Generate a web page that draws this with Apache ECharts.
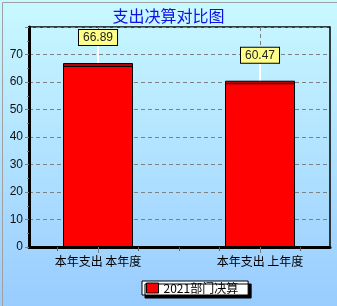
<!DOCTYPE html>
<html><head><meta charset="utf-8">
<script src="https://cdn.jsdelivr.net/npm/echarts@6/dist/echarts.min.js"></script>
<style>html,body{margin:0;padding:0;}#c{width:337px;height:306px;}</style>
</head><body><div id="c"></div>
<script>
const categories = ['本年支出 本年度', '本年支出 上年度'];
const values = [66.89, 60.47];
const seriesName = '2021部门决算';
const titleText = '支出决算对比图';

const chart = echarts.init(document.getElementById('c'), null, {renderer: 'canvas'});
chart.setOption({
  animation: false,
  backgroundColor: new echarts.graphic.LinearGradient(0, 0, 0, 1, [
    {offset: 0, color: '#c9f9ff'}, {offset: 1, color: '#99ccff'}]),
  graphic: [{type: 'rect', left: 0, top: 0, shape: {width: 337, height: 306},
    style: {fill: 'none', stroke: '#a0a0a0', lineWidth: 1}, silent: true}],
  title: {text: titleText, left: 'center', top: 3,
    textStyle: {color: '#1010e8', fontSize: 16, fontWeight: 'normal', fontFamily: 'Noto Sans CJK SC'}},
  grid: {left: 29, right: 7, top: 27, bottom: 59, show: true, borderColor: '#000', borderWidth: 1.5, backgroundColor: 'transparent'},
  legend: {left: 142, top: 281, data: [seriesName], backgroundColor: '#fff', borderColor: '#000', borderWidth: 1,
    borderRadius: 0, padding: [1, 10, 1, 4], itemWidth: 12, itemHeight: 10, itemGap: 4, icon: 'rect',
    shadowColor: '#000', shadowOffsetX: 3, shadowOffsetY: 3, shadowBlur: 0,
    textStyle: {color: '#000', fontSize: 12, fontFamily: 'Noto Sans CJK SC'},
    itemStyle: {borderColor: '#000', borderWidth: 1}},
  xAxis: [{type: 'value', min: -0.426, max: 1.432,
    axisLine: {onZero: false, lineStyle: {color: '#000', width: 3}},
    axisTick: {show: true, length: 6, customValues: [0, 1], lineStyle: {color: '#808080'}},
    axisLabel: {color: '#000', fontSize: 12, margin: 8, fontFamily: 'Noto Sans CJK SC',
      customValues: [0, 1], formatter: v => categories[Math.round(v)]},
    splitLine: {show: true, lineStyle: {color: '#808080', type: [4, 3]}}},
   {type: 'value', min: -0.426, max: 1.432, position: 'bottom',
    axisLine: {show: false, onZero: false},
    axisTick: {show: true, length: 4, customValues: [-0.25, 0.25, 0.5, 0.75, 1.25], lineStyle: {color: '#606060'}},
    axisLabel: {show: false}, splitLine: {show: false}}],
  yAxis: {type: 'value', min: 0, max: 80, interval: 10, position: 'left',
    axisLine: {show: true, onZero: false, lineStyle: {color: '#000', width: 3}},
    axisTick: {show: true, length: 4, lineStyle: {color: '#808080'}},
    minorTick: {show: true, splitNumber: 2, length: 2, lineStyle: {color: '#808080'}},
    axisLabel: {color: '#111', fontSize: 12, margin: 6, showMaxLabel: false, fontFamily: 'Liberation Sans'},
    splitLine: {show: true, lineStyle: {color: '#808080', type: [4, 3]}}},
  series: [{
    name: seriesName, type: 'bar', data: values.map((v, i) => [i, v]), barWidth: 70,
    itemStyle: {
      color: new echarts.graphic.LinearGradient(0, 0, 0, 1, [
        {offset: 0, color: '#c00000'}, {offset: 0.016, color: '#c00000'},
        {offset: 0.017, color: '#000'}, {offset: 0.022, color: '#000'},
        {offset: 0.023, color: '#ff0000'}, {offset: 1, color: '#ff0000'}]),
      borderColor: '#000', borderWidth: 1},
    label: {show: true, position: 'top', distance: 5, color: '#222', fontSize: 12,
      fontFamily: 'Liberation Sans', backgroundColor: '#ffff88', borderColor: '#000', borderWidth: 1,
      padding: [2, 4, 1, 4], formatter: p => p.value[1].toFixed(2)},
    labelLayout: {dy: -13},
    labelLine: {show: true, smooth: false, lineStyle: {color: '#ffffff', width: 2}}
  }]
});
</script></body></html>
